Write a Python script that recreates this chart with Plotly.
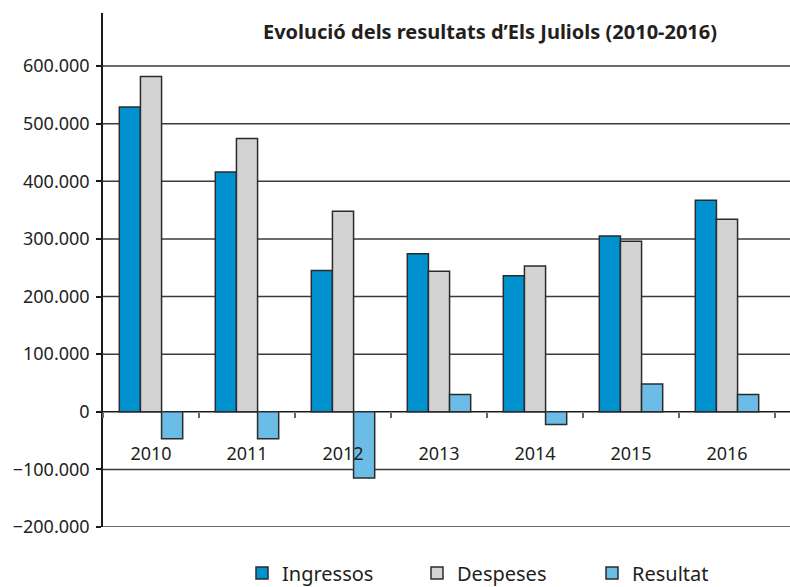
import plotly.graph_objects as go

years = ['2010', '2011', '2012', '2013', '2014', '2015', '2016']
ingressos = [529000, 416000, 245000, 274000, 236000, 305000, 367000]
despeses = [582000, 474000, 348000, 244000, 253000, 296000, 334000]
resultat = [-47000, -47000, -115000, 30000, -22000, 48000, 30000]
y_ticks = [-200000, -100000, 0, 100000, 200000, 300000, 400000, 500000, 600000]

series = [
    ('Ingressos', ingressos, '#0092CF'),
    ('Despeses', despeses, '#D3D3D3'),
    ('Resultat', resultat, '#6BBCE6'),
]

font = 'Noto Sans, Open Sans, sans-serif'
y_min, y_max = -200000, 692000

fig = go.Figure()
for name, vals, color in series:
    fig.add_trace(go.Bar(x=years, y=vals, name=name,
                         marker=dict(color=color, line=dict(color='#2b2b2b', width=1.5))))

# gridlines as shapes so they run to the right edge like the original
for v in y_ticks:
    fig.add_shape(type='line', xref='paper', yref='y', x0=0, x1=1, y0=v, y1=v,
                  line=dict(color='#1a1a1a' if v == 0 else '#3a3a3a', width=1.5),
                  layer='below')

fig.update_layout(
    width=790, height=587,
    margin=dict(l=103, r=0, t=13, b=60, autoexpand=False),
    paper_bgcolor='white', plot_bgcolor='white',
    separators=',.',
    font=dict(family=font, size=18, color='#231f20'),
    barmode='group', bargap=0.34, bargroupgap=0,
    title=dict(text='<b>Evolució dels resultats d’Els Juliols (2010-2016)</b>',
               x=(490 - 103) / 687, xref='paper', xanchor='center',
               y=1 - 32 / 587, yanchor='middle',
               font=dict(size=20, family=font, color='#231f20')),
    legend=dict(orientation='h', xref='container', yref='container',
                x=242 / 790, xanchor='left', y=1 - 573 / 587, yanchor='middle',
                entrywidth=130, entrywidthmode='pixels',
                font=dict(size=20, family=font), traceorder='normal'),
)

fig.update_xaxes(
    type='category', range=[-0.5, -0.5 + 687 / 96], autorange=False,
    anchor='free', position=(0 - y_min) / (y_max - y_min),
    showline=False,
    ticks='outside', tickson='boundaries', ticklen=5, tickcolor='#666', tickwidth=1.5,
    ticklabelstandoff=29, showgrid=False,
)
fig.update_yaxes(
    range=[y_min, y_max], tickvals=y_ticks,
    tickformat=',d',
    showline=True, linecolor='#1a1a1a', linewidth=1.5,
    ticks='outside', ticklen=5, tickcolor='#1a1a1a', tickwidth=1.5,
    ticklabelstandoff=3,
    showgrid=False, zeroline=False,
)

# the page's default body margin and scrollbars would push the figure off the window
fig.write_html('out.html', config={'displayModeBar': False},
               post_script="document.documentElement.style.overflow='hidden';"
                           "document.body.style.margin='0';document.body.style.overflow='hidden';")
